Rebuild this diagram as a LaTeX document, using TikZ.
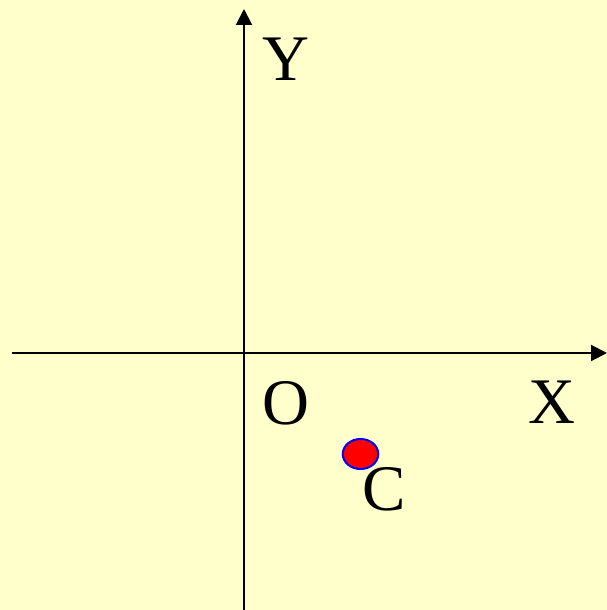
\documentclass[tikz,border=0pt]{standalone}
\usepackage{fontspec}
\setmainfont{Liberation Serif}
\usetikzlibrary{arrows.meta,shapes.geometric}
\definecolor{bgyellow}{HTML}{FFFFCC}
\definecolor{dotred}{HTML}{FF0000}
\definecolor{dotblue}{HTML}{0000FF}
\begin{document}
\begin{tikzpicture}[x=1pt,y=-1pt,
  axis/.style={line width=2pt,-{Triangle[length=16pt,width=16pt]}},
  lbl/.style={inner sep=0pt,anchor=base west,font=\fontsize{65}{78}\selectfont}]
\fill[bgyellow] (0,0) rectangle (607,610);
\useasboundingbox (0,0) rectangle (607,610);
\coordinate (xs) at (12,353);
\coordinate (xe) at (607,353);
\coordinate (ys) at (244,610);
\coordinate (ye) at (244,9);
\draw[axis] (xs) -- (xe);
\draw[axis] (ys) -- (ye);
\node[lbl] (Y) at (262,81) {Y};
\node[lbl] (O) at (262,424) {O};
\node[lbl] (X) at (528,423) {X};
\node[lbl] (C) at (362,510) {C};
\node[draw=dotblue,fill=dotred,line width=2pt,ellipse,minimum width=35.5pt,minimum height=30pt,inner sep=0pt] (dot) at (360.5,454) {};
\end{tikzpicture}
\end{document}
